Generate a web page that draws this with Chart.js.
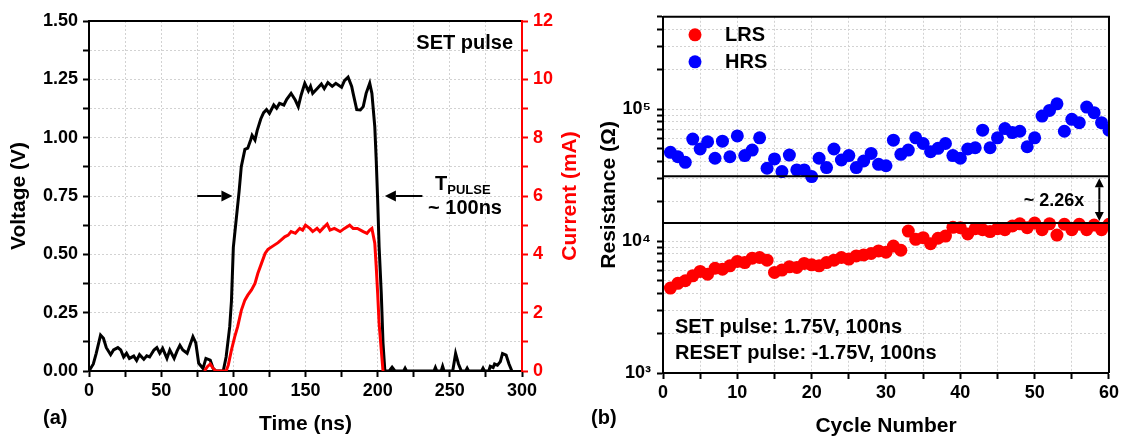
<!DOCTYPE html>
<html>
<head>
<meta charset="utf-8">
<title>SET pulse and cycling endurance</title>
<script src="https://cdn.jsdelivr.net/npm/chart.js@4.4.1/dist/chart.umd.min.js"></script>
<style>
  body { margin: 0; background: #fff; }
  #wrap { position: relative; width: 1122px; height: 439px; overflow: hidden; background: #fff; }
  canvas { position: absolute; top: 0; }
  #pulseChart { left: 0; }
  #cycleChart { left: 590px; }
</style>
</head>
<body>
<div id="wrap">
  <canvas id="pulseChart" width="590" height="439"></canvas>
  <canvas id="cycleChart" width="532" height="439"></canvas>
</div>
<script>
// --- (a) SET pulse waveform ---
const pulseTime = [
  0, 3, 5, 8, 10, 12, 15, 17, 20, 22,
  24, 26, 28, 31, 33, 35, 38, 40, 42, 45,
  47, 49, 51, 54, 56, 59, 61, 63, 65, 68,
  72, 74, 76, 79, 81, 84, 86, 88, 93, 95,
  97.5, 98.7, 100, 102, 104, 105.5, 108, 110, 112, 113,
  115, 116.5, 119, 121, 123, 125, 128, 130, 132, 135,
  137, 140, 143, 145, 147, 149.5, 152, 153.5, 155, 158,
  161, 163, 165.5, 168.5, 171, 175, 177, 179.5, 182, 183,
  185.5, 188, 190, 192, 194.5, 196, 198, 199, 200, 201,
  202.5, 203.7, 205, 208, 210, 212, 218, 219, 220, 239,
  240, 241, 244, 245, 246, 252, 254, 256, 258, 261,
  262, 263, 272, 273, 274, 277, 278, 280, 281, 283,
  285, 286.5, 289, 291, 293
];
const pulseVoltage = [
  0, 0.03, 0.076, 0.154, 0.14, 0.10, 0.07, 0.09, 0.10, 0.09,
  0.06, 0.076, 0.054, 0.064, 0.045, 0.07, 0.05, 0.065, 0.06, 0.09,
  0.10, 0.076, 0.097, 0.054, 0.09, 0.054, 0.085, 0.11, 0.09, 0.076,
  0.147, 0.12, 0.033, 0.011, 0.054, 0.047, 0.011, 0, 0, 0.06,
  0.19, 0.30, 0.53, 0.65, 0.77, 0.876, 0.95, 0.955, 0.99, 1.01,
  0.99, 1.03, 1.08, 1.107, 1.12, 1.104, 1.14, 1.126, 1.147, 1.14,
  1.164, 1.19, 1.16, 1.133, 1.183, 1.233, 1.20, 1.22, 1.19, 1.21,
  1.23, 1.21, 1.236, 1.22, 1.233, 1.216, 1.244, 1.259, 1.22, 1.19,
  1.12, 1.119, 1.133, 1.19, 1.233, 1.19, 1.047, 0.904, 0.733, 0.533,
  0.333, 0.12, 0, 0, 0.016, 0, 0, 0.012, 0, 0,
  0.015, 0, 0, 0.02, 0, 0, 0.075, 0.03, 0, 0,
  0.012, 0, 0, 0.012, 0, 0, 0.02, 0.015, 0.03, 0.025,
  0.04, 0.075, 0.068, 0.03, 0
];
const currentTime = [
  80, 82, 84, 86, 88, 95, 96.5, 98.7, 101, 103,
  105.6, 108, 110, 112.6, 115, 117, 119.5, 122, 124, 127.6,
  131, 133, 135.6, 138, 140, 143, 146, 148, 150, 153,
  155, 158, 160, 162, 165, 167, 170, 174, 177, 180.6,
  183, 186, 190, 192.6, 194.5, 196, 198, 199, 200, 201,
  202.5, 203.7
];
const currentMilliamp = [
  0, 0.15, 0.24, 0.09, 0, 0, 0.2, 0.72, 1.18, 1.52,
  2.09, 2.43, 2.6, 2.78, 3.0, 3.35, 3.69, 4.03, 4.17, 4.29,
  4.4, 4.49, 4.6, 4.66, 4.78, 4.72, 4.89, 4.83, 5.0, 4.89,
  4.78, 4.89, 4.78, 4.89, 5.04, 4.83, 4.89, 4.78, 4.89, 5.0,
  4.89, 4.89, 4.78, 4.72, 4.83, 4.89, 4.38, 3.58, 2.66, 1.63,
  0.72, 0
];
const timeLabels = [0, 50, 100, 150, 200, 250, 300];
const voltLabels = [0, 0.25, 0.5, 0.75, 1.0, 1.25, 1.5];
const currentLabels = [0, 2, 4, 6, 8, 10, 12];
const pulseEdges = [99.4, 205];     // ns, where the width arrows point
const pulseArrowTails = [75, 231];  // ns
const pulseArrowLevel = 0.75;       // V

// --- (b) endurance ---
const cycles = [
  1, 2, 3, 4, 5, 6, 7, 8, 9, 10,
  11, 12, 13, 14, 15, 16, 17, 18, 19, 20,
  21, 22, 23, 24, 25, 26, 27, 28, 29, 30,
  31, 32, 33, 34, 35, 36, 37, 38, 39, 40,
  41, 42, 43, 44, 45, 46, 47, 48, 49, 50,
  51, 52, 53, 54, 55, 56, 57, 58, 59, 60
];
const lrsOhm = [
  4400, 4780, 5000, 5450, 5880, 5610, 6220, 6120, 6490, 7000,
  6870, 7410, 7500, 7160, 5780, 6020, 6380, 6310, 6760, 6600,
  6490, 6870, 7160, 7500, 7300, 7710, 7850, 8040, 8410, 8220,
  9160, 8510, 11900, 10300, 10600, 9550, 10500, 10900, 12700, 12600,
  11300, 12400, 12200, 11800, 12400, 12200, 13000, 13500, 12600, 13700,
  12200, 13500, 11100, 13400, 12200, 13400, 12200, 13200, 12200, 13400
];
const hrsOhm = [
  47000, 43500, 39500, 59200, 49800, 56500, 42400, 57100, 43500, 62600,
  44400, 48900, 60500, 35600, 41900, 33600, 44800, 34600, 34600, 30800,
  42400, 36000, 49800, 41100, 44400, 36000, 40400, 46100, 38100, 37200,
  58100, 45400, 48900, 60500, 54800, 47500, 50400, 54800, 44400, 42400,
  49800, 50900, 69200, 50900, 60500, 71100, 66300, 67900, 51800, 60500,
  88500, 97700, 109600, 67900, 83600, 78900, 103500, 93800, 78900, 69200
];
const cycleLabels = [0, 10, 20, 30, 40, 50, 60];
const resDecades = [1e3, 1e4, 1e5];
const resDecadeLabels = ['10³', '10⁴', '10⁵'];
const stateOrder = ['LRS', 'HRS'];
const windowRatio = 2.26;
const lrsCeiling = 13700;                       // Ω
const hrsFloor = lrsCeiling * windowRatio;      // Ω

const FONT = '"Liberation Sans", Arial, sans-serif';
const tickFont = { family: FONT, size: 18, weight: 'bold' };
const titleFont = { family: FONT, size: 21, weight: 'bold' };
const GRID = '#d2d2d2';

function near(list, v) {
  return list.some(t => Math.abs(t - v) < 1e-6);
}

function arrow(ctx, x1, y1, x2, y2, head) {
  // shaft from (x1,y1) to the tip (x2,y2), filled head at the tip
  const a = Math.atan2(y2 - y1, x2 - x1);
  const bx = x2 - Math.cos(a) * head;
  const by = y2 - Math.sin(a) * head;
  ctx.beginPath();
  ctx.moveTo(x1, y1);
  ctx.lineTo(bx, by);
  ctx.stroke();
  ctx.beginPath();
  ctx.moveTo(x2, y2);
  ctx.lineTo(bx + Math.sin(a) * head * 0.5, by - Math.cos(a) * head * 0.5);
  ctx.lineTo(bx - Math.sin(a) * head * 0.5, by + Math.cos(a) * head * 0.5);
  ctx.closePath();
  ctx.fill();
}

const pulseNotes = {
  id: 'pulseNotes',
  afterDraw(chart) {
    const { ctx, chartArea: a, scales: { x, y } } = chart;
    ctx.save();
    // top edge of the frame
    ctx.strokeStyle = '#000';
    ctx.lineWidth = 2;
    ctx.beginPath();
    ctx.moveTo(a.left, a.top);
    ctx.lineTo(a.right - 1, a.top);
    ctx.stroke();

    ctx.fillStyle = '#000';
    ctx.font = 'bold 20px ' + FONT;
    ctx.textBaseline = 'middle';
    ctx.textAlign = 'right';
    ctx.fillText('SET pulse', a.right - 9, 43);

    // pulse width arrows
    const ay = y.getPixelForValue(pulseArrowLevel);
    ctx.lineWidth = 2;
    arrow(ctx, x.getPixelForValue(pulseArrowTails[0]), ay, x.getPixelForValue(pulseEdges[0]), ay, 11);
    arrow(ctx, x.getPixelForValue(pulseArrowTails[1]), ay, x.getPixelForValue(pulseEdges[1]), ay, 11);

    ctx.textAlign = 'left';
    ctx.textBaseline = 'alphabetic';
    ctx.font = 'bold 20px ' + FONT;
    ctx.fillText('T', 435, 190);
    const tw = ctx.measureText('T').width;
    ctx.font = 'bold 13px ' + FONT;
    ctx.fillText('PULSE', 435 + tw, 194);
    ctx.font = 'bold 20px ' + FONT;
    ctx.textAlign = 'center';
    ctx.textBaseline = 'middle';
    ctx.fillText('~ 100ns', 465, 208);

    ctx.textAlign = 'left';
    ctx.fillText('(a)', 43, 418);

    // current axis title, reading upwards
    ctx.save();
    ctx.translate(570, (a.top + a.bottom) / 2);
    ctx.rotate(-Math.PI / 2);
    ctx.fillStyle = '#ff0000';
    ctx.textAlign = 'center';
    ctx.font = 'bold 21px ' + FONT;
    ctx.fillText('Current (mA)', 0, 0);
    ctx.restore();
    ctx.restore();
  }
};

new Chart(document.getElementById('pulseChart'), {
  type: 'line',
  data: {
    datasets: [{
      label: 'Current',
      data: currentTime.map((t, i) => ({ x: t, y: currentMilliamp[i] })),
      yAxisID: 'y1',
      borderColor: '#ff0000',
      borderWidth: 3,
      pointRadius: 0,
      tension: 0
    }, {
      label: 'Voltage',
      data: pulseTime.map((t, i) => ({ x: t, y: pulseVoltage[i] })),
      yAxisID: 'y',
      borderColor: '#000',
      borderWidth: 3,
      pointRadius: 0,
      tension: 0
    }]
  },
  options: {
    responsive: false,
    animation: false,
    devicePixelRatio: 1,
    layout: { padding: { top: 21, left: 0, right: 0, bottom: 0 } },
    plugins: { legend: { display: false }, tooltip: { enabled: false } },
    scales: {
      x: {
        type: 'linear',
        min: 0, max: 300,
        afterFit: s => { s.height = 68; },
        ticks: {
          stepSize: 25, autoSkip: false, maxRotation: 0, padding: 3,
          color: '#000', font: tickFont,
          callback: v => near(timeLabels, v) ? String(v) : ''
        },
        grid: { color: GRID, lineWidth: 1, tickLength: 6, tickColor: '#000', tickWidth: 2 },
        border: { color: '#000', width: 2, dash: [2, 2] },
        title: { display: true, text: 'Time (ns)', color: '#000', font: titleFont, padding: { top: 0, bottom: 2 } }
      },
      y: {
        position: 'left',
        min: 0, max: 1.5,
        afterFit: s => { s.width = 89; },
        ticks: {
          stepSize: 0.125, autoSkip: false, padding: 5,
          color: '#000', font: tickFont,
          callback: v => near(voltLabels, v) ? v.toFixed(2) : ''
        },
        grid: { color: GRID, lineWidth: 1, tickLength: 6, tickColor: '#000', tickWidth: 2 },
        border: { color: '#000', width: 2, dash: [2, 2] },
        title: { display: true, text: 'Voltage (V)', color: '#000', font: titleFont, padding: { top: 7, bottom: 0 } }
      },
      y1: {
        position: 'right',
        min: 0, max: 12,
        afterFit: s => { s.width = 68; },
        ticks: {
          stepSize: 1, autoSkip: false, padding: 5,
          color: '#ff0000', font: tickFont,
          callback: v => near(currentLabels, v) ? String(v) : ''
        },
        grid: { drawOnChartArea: false, tickLength: 6, tickColor: '#ff0000', tickWidth: 2 },
        border: { color: '#ff0000', width: 2 }
      }
    }
  },
  plugins: [pulseNotes]
});

// --- (b) ---
const cycleNotes = {
  id: 'cycleNotes',
  afterDraw(chart) {
    const { ctx, chartArea: a, scales: { x, y } } = chart;
    ctx.save();
    // close the frame on top and right
    ctx.strokeStyle = '#000';
    ctx.lineWidth = 2;
    ctx.beginPath();
    ctx.moveTo(a.left, a.top);
    ctx.lineTo(a.right, a.top);
    ctx.lineTo(a.right, a.bottom);
    ctx.stroke();

    // legend for the two resistance states
    ctx.font = 'bold 20px ' + FONT;
    ctx.textBaseline = 'middle';
    ctx.textAlign = 'left';
    stateOrder.forEach((name, i) => {
      const d = chart.data.datasets.find(ds => ds.label === name);
      const cy = a.top + 18 + i * 27;
      ctx.fillStyle = d.backgroundColor;
      ctx.beginPath();
      ctx.arc(a.left + 32, cy, 6.5, 0, Math.PI * 2);
      ctx.fill();
      ctx.fillStyle = '#000';
      ctx.fillText(d.label, a.left + 62, cy + 1);
    });

    ctx.fillStyle = '#000';
    ctx.fillText('SET pulse: 1.75V, 100ns', a.left + 12, a.bottom - 46);
    ctx.fillText('RESET pulse: -1.75V, 100ns', a.left + 12, a.bottom - 20);

    // resistance window between the two guide lines
    const ax = x.getPixelForValue(58.7);
    const yTop = y.getPixelForValue(hrsFloor) + 2;
    const yBot = y.getPixelForValue(lrsCeiling) - 2;
    const mid = (yTop + yBot) / 2;
    ctx.lineWidth = 2;
    arrow(ctx, ax, mid, ax, yTop, 9);
    arrow(ctx, ax, mid, ax, yBot, 9);
    ctx.font = 'bold 18px ' + FONT;
    ctx.textAlign = 'right';
    ctx.fillText('~ ' + windowRatio.toFixed(2) + 'x', ax - 15, mid + 1);

    ctx.font = 'bold 20px ' + FONT;
    ctx.textAlign = 'left';
    ctx.fillText('(b)', 1, 418);
    ctx.restore();
  }
};

new Chart(document.getElementById('cycleChart'), {
  type: 'scatter',
  data: {
    datasets: [{
      label: 'HRS floor',
      data: [{ x: 0, y: hrsFloor }, { x: 60, y: hrsFloor }],
      showLine: true, borderColor: '#000', borderWidth: 2, pointRadius: 0
    }, {
      label: 'LRS ceiling',
      data: [{ x: 0, y: lrsCeiling }, { x: 60, y: lrsCeiling }],
      showLine: true, borderColor: '#000', borderWidth: 2, pointRadius: 0
    }, {
      label: 'HRS',
      data: cycles.map((c, i) => ({ x: c, y: hrsOhm[i] })),
      backgroundColor: '#0000ff', borderWidth: 0, pointRadius: 6.5
    }, {
      label: 'LRS',
      data: cycles.map((c, i) => ({ x: c, y: lrsOhm[i] })),
      backgroundColor: '#ff0000', borderWidth: 0, pointRadius: 6.5
    }]
  },
  options: {
    responsive: false,
    animation: false,
    devicePixelRatio: 1,
    layout: { padding: { top: 14, left: 0, right: 12, bottom: 0 } },
    plugins: { legend: { display: false }, tooltip: { enabled: false } },
    scales: {
      x: {
        type: 'linear',
        min: 0, max: 60,
        afterFit: s => { s.height = 66; },
        ticks: {
          stepSize: 5, autoSkip: false, maxRotation: 0, padding: 3,
          color: '#000', font: tickFont,
          callback: v => near(cycleLabels, v) ? String(v) : ''
        },
        grid: { color: GRID, lineWidth: 1, tickLength: 6, tickColor: '#000', tickWidth: 2 },
        border: { color: '#000', width: 2, dash: [2, 2] },
        title: { display: true, text: 'Cycle Number', color: '#000', font: titleFont, padding: { top: 0, bottom: 0 } }
      },
      y: {
        type: 'logarithmic',
        min: 1e3, max: 5e5,
        afterFit: s => { s.width = 73; },
        afterBuildTicks: s => {
          const ticks = [];
          resDecades.forEach(d => {
            for (let m = 1; m <= 9; m++) {
              if (d * m <= 5e5) ticks.push({ value: d * m });
            }
          });
          s.ticks = ticks;
        },
        ticks: {
          autoSkip: false, padding: 6,
          color: '#000', font: tickFont,
          callback: v => {
            const k = resDecades.findIndex(d => Math.abs(d - v) < 1e-6);
            return k >= 0 ? resDecadeLabels[k] : '';
          }
        },
        grid: { color: GRID, lineWidth: 1, tickLength: 6, tickColor: '#000', tickWidth: 2 },
        border: { color: '#000', width: 2, dash: [2, 2] },
        title: { display: true, text: 'Resistance (Ω)', color: '#000', font: titleFont, padding: { top: 7, bottom: 0 } }
      }
    }
  },
  plugins: [cycleNotes]
});
</script>
</body>
</html>
